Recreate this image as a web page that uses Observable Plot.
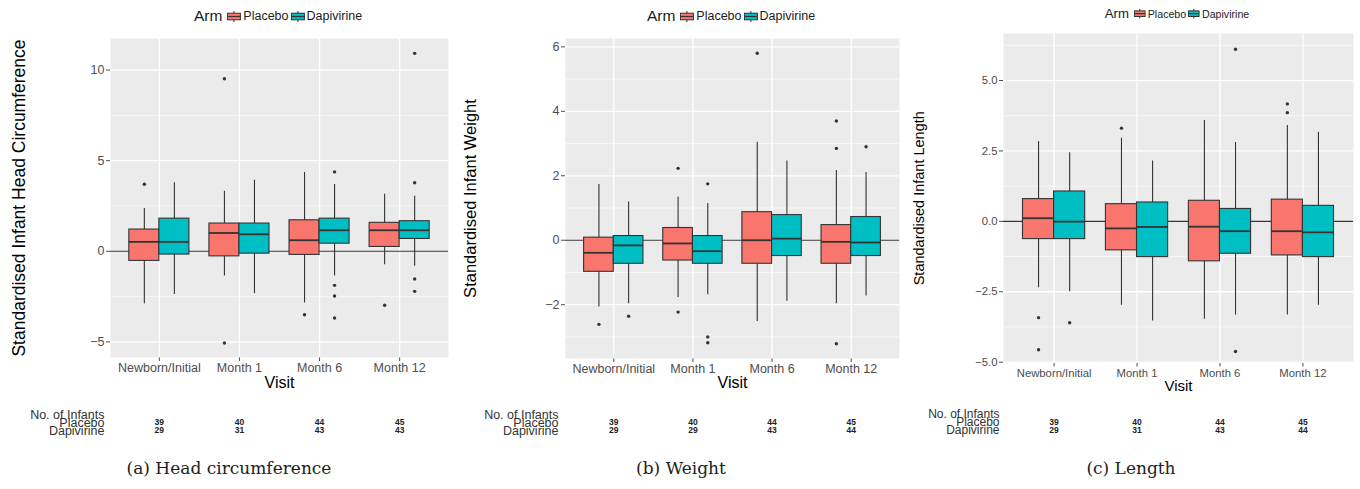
<!DOCTYPE html>
<html><head><meta charset="utf-8">
<script src="https://cdn.jsdelivr.net/npm/d3@7"></script>
<script src="https://cdn.jsdelivr.net/npm/@observablehq/plot@0.6"></script>
<style>
body{margin:0;background:#fff;width:1360px;height:489px;position:relative;overflow:hidden;font-family:"Liberation Sans",Arial,sans-serif}
.abs{position:absolute}
.legend{position:absolute;display:flex;align-items:center;transform:translateX(-50%);white-space:nowrap;color:#1a1a1a}
.legend .ttl{margin-right:5px}
.legend .lab{margin:0 2px 0 2px}
.caption{position:absolute;transform:translateX(-50%);font-family:"DejaVu Serif","Liberation Serif",serif;white-space:nowrap;color:#222}
</style></head>
<body>
<script>
const visits = ["Newborn/Initial", "Month 1", "Month 6", "Month 12"];
const arms = ["Placebo", "Dapivirine"];
const armColors = ["#F8766D", "#00BFC4"];

// [lower whisker, Q1, median, Q3, upper whisker] per visit
const headPlacebo = [[-2.89, -0.53, 0.52, 1.2, 2.36], [-1.36, -0.28, 1.01, 1.53, 3.31], [-2.85, -0.2, 0.61, 1.71, 4.35], [-0.74, 0.24, 1.16, 1.57, 3.15]];
const headDapivirine = [[-2.39, -0.18, 0.52, 1.8, 3.78], [-2.34, -0.13, 0.94, 1.53, 3.92], [-1.36, 0.42, 1.16, 1.8, 3.68], [-0.83, 0.68, 1.16, 1.66, 3.04]];
const headPlaceboOut = [[3.7], [9.52, -5.06], [-3.5], [-2.98]];
const headDapivirineOut = [[], [], [4.38, -1.88, -2.47, -3.68], [10.92, 3.78, -1.53, -2.21]];

const weightPlacebo = [[-2.07, -0.98, -0.39, 0.08, 1.73], [-1.78, -0.63, -0.1, 0.38, 1.33], [-2.52, -0.73, 0, 0.87, 3.04], [-1.97, -0.73, -0.05, 0.47, 2.16]];
const weightDapivirine = [[-1.97, -0.73, -0.16, 0.13, 1.19], [-1.69, -0.73, -0.34, 0.13, 1.14], [-1.89, -0.49, 0.05, 0.78, 2.46], [-1.73, -0.49, -0.07, 0.72, 2.1]];
const weightPlaceboOut = [[-2.61], [2.23, -2.23], [5.8], [3.7, 2.85, -3.21]];
const weightDapivirineOut = [[-2.36], [1.75, -3.0, -3.18], [], [2.9]];

const lengthPlacebo = [[-2.36, -0.63, 0.11, 0.79, 2.83], [-2.98, -1.03, -0.25, 0.61, 2.95], [-3.48, -1.42, -0.19, 0.73, 3.58], [-3.33, -1.21, -0.35, 0.77, 3.4]];
const lengthDapivirine = [[-2.5, -0.63, -0.01, 1.06, 2.44], [-3.54, -1.27, -0.2, 0.67, 2.14], [-3.33, -1.15, -0.35, 0.44, 2.8], [-2.98, -1.27, -0.39, 0.55, 3.16]];
const lengthPlaceboOut = [[-3.42, -4.56], [3.31], [], [4.17, 3.86]];
const lengthDapivirineOut = [[-3.6], [], [6.11, -4.62], []];

// No. of infants
const headCountPlacebo = [39, 40, 44, 45];
const headCountDapivirine = [29, 31, 43, 43];
const weightCountPlacebo = [39, 40, 44, 45];
const weightCountDapivirine = [29, 29, 43, 44];
const lengthCountPlacebo = [39, 40, 44, 45];
const lengthCountDapivirine = [29, 31, 43, 44];

// axis ticks
const headTicks = [-5, 0, 5, 10];
const headMinor = [-2.5, 2.5, 7.5];
const weightTicks = [-2, 0, 2, 4, 6];
const weightMinor = [-3, -1, 1, 3, 5];
const lengthTicks = [-5, -2.5, 0, 2.5, 5];
const lengthMinor = [-3.75, -1.25, 1.25, 3.75, 6.25];

const captions = ["(a) Head circumference", "(b) Weight", "(c) Length"];
const yLabels = ["Standardised Infant Head Circumference", "Standardised Infant Weight", "Standardised Infant Length"];

const PAD = 0.11, BOXFRAC = 0.375;
const minus = s => s.replace("-", "\u2212");

const panels = [
  {left: 0, width: 455, ml: 110, mr: 7, mt: 38, height: 400, mb: 43, ydomain: [-5.86, 11.74],
   ticks: headTicks, minor: headMinor, fmt: d => minus(String(d)), stats: [headPlacebo, headDapivirine], outs: [headPlaceboOut, headDapivirineOut],
   counts: [headCountPlacebo, headCountDapivirine], ylabel: yLabels[0], ylabDx: -91, ylabSize: 17.5, xlabDy: 30, xlabSize: 16, tickFont: 12.5,
   tpad: 6, tableFont: 12.5, legendY: 16, legendScale: 1, caption: captions[0], capX: 229},
  {left: 455, width: 455, ml: 110, mr: 11, mt: 38, height: 400, mb: 42, ydomain: [-3.67, 6.26],
   ticks: weightTicks, minor: weightMinor, fmt: d => minus(String(d)), stats: [weightPlacebo, weightDapivirine], outs: [weightPlaceboOut, weightDapivirineOut],
   counts: [weightCountPlacebo, weightCountDapivirine], ylabel: yLabels[1], ylabDx: -95, ylabSize: 16.5, xlabDy: 29, xlabSize: 16, tickFont: 12.5,
   tpad: 7, tableFont: 12.5, legendY: 16, legendScale: 1, caption: captions[1], capX: 681},
  {left: 910, width: 450, ml: 93, mr: 7, mt: 33, height: 400, mb: 37.5, ydomain: [-5.03, 6.67],
   ticks: lengthTicks, minor: lengthMinor, fmt: d => minus(d.toFixed(1)), stats: [lengthPlacebo, lengthDapivirine], outs: [lengthPlaceboOut, lengthDapivirineOut],
   counts: [lengthCountPlacebo, lengthCountDapivirine], ylabel: yLabels[2], ylabDx: -84, ylabSize: 14.5, xlabDy: 28, xlabSize: 15, tickFont: 11.3,
   tpad: 4, tableFont: 12, legendY: 14, legendScale: 0.85, caption: captions[2], capX: 1131}
];

function swatch(color, s) {
  const w = 14 * s, h = 11 * s;
  return `<svg width="${w}" height="${h}" style="display:block"><line x1="${w/2}" x2="${w/2}" y1="0" y2="${h}" stroke="#333" stroke-width="1"/>` +
    `<rect x="0.5" y="${h*0.2}" width="${w-1}" height="${h*0.6}" fill="${color}" stroke="#333" stroke-width="1"/>` +
    `<line x1="0.5" x2="${w-0.5}" y1="${h/2}" y2="${h/2}" stroke="#333" stroke-width="1.2"/></svg>`;
}

for (const cfg of panels) {
  const rows = [];
  const outs = [];
  arms.forEach((arm, a) => {
    visits.forEach((v, i) => {
      const s = cfg.stats[a][i];
      rows.push({visit: v, arm, lo: s[0], q1: s[1], med: s[2], q3: s[3], hi: s[4]});
      cfg.outs[a][i].forEach(y => outs.push({visit: v, arm, y}));
    });
  });
  const plotW = cfg.width - cfg.ml - cfg.mr;
  const step = plotW / (visits.length + 2 * PAD);
  const bw = step * BOXFRAC;
  const xScale = {domain: visits, type: "band", paddingInner: 0, paddingOuter: PAD, round: false};

  const marks = [
    Plot.frame({fill: "#ebebeb"}),
    Plot.ruleY(cfg.minor, {stroke: "#fff", strokeWidth: 0.6}),
    Plot.ruleY(cfg.ticks, {stroke: "#fff", strokeWidth: 1.3}),
    Plot.ruleX(visits, {stroke: "#fff", strokeWidth: 1.3}),
    Plot.ruleY([0], {stroke: "#333", strokeWidth: 1.1})
  ];
  arms.forEach((arm, a) => {
    const f = d => d.arm === arm;
    const sgn = a === 0 ? -1 : 1;
    const dx = sgn * bw / 2;
    const insetLeft = a === 0 ? step / 2 - bw : step / 2;
    const insetRight = a === 0 ? step / 2 : step / 2 - bw;
    marks.push(
      Plot.ruleX(rows, {filter: f, x: "visit", y1: "lo", y2: "hi", dx, stroke: "#333", strokeWidth: 1.1}),
      Plot.barY(rows, {filter: f, x: "visit", y1: "q1", y2: "q3", fill: "arm", stroke: "#333", strokeWidth: 1.1, insetLeft, insetRight}),
      Plot.tickY(rows, {filter: f, x: "visit", y: "med", stroke: "#333", strokeWidth: 1.8, insetLeft, insetRight}),
      Plot.dot(outs, {filter: f, x: "visit", y: "y", dx, r: 1.7, fill: "#333", stroke: null})
    );
  });
  marks.push(
    Plot.text([cfg.ylabel], {text: d => d, frameAnchor: "left", textAnchor: "middle", rotate: -90, dx: cfg.ylabDx, fontSize: cfg.ylabSize, fill: "#000"}),
    Plot.text(["Visit"], {text: d => d, frameAnchor: "bottom", textAnchor: "middle", dy: cfg.xlabDy, fontSize: cfg.xlabSize, fill: "#000"})
  );

  const chart = Plot.plot({
    width: cfg.width, height: cfg.height,
    marginLeft: cfg.ml, marginRight: cfg.mr, marginTop: cfg.mt, marginBottom: cfg.mb,
    style: {fontFamily: '"Liberation Sans", Arial, sans-serif', fontSize: cfg.tickFont + "px", color: "#4d4d4d", background: "transparent", overflow: "visible"},
    x: {...xScale, tickSize: 4, tickPadding: 2, label: null},
    y: {domain: cfg.ydomain, ticks: cfg.ticks, tickFormat: cfg.fmt, tickSize: 4, tickPadding: 2, label: null},
    color: {domain: arms, range: armColors},
    marks
  });
  chart.classList.add("abs");
  chart.style.left = cfg.left + "px";
  chart.style.top = "0px";
  document.body.appendChild(chart);

  // counts table
  const countRows = [];
  arms.forEach((arm, a) => visits.forEach((v, i) => countRows.push({visit: v, arm, n: cfg.counts[a][i]})));
  const table = Plot.plot({
    width: cfg.width, height: 36,
    marginLeft: cfg.ml, marginRight: cfg.mr, marginTop: 9, marginBottom: 11,
    style: {fontFamily: '"Liberation Sans", Arial, sans-serif', fontSize: cfg.tableFont + "px", color: "#333", background: "transparent", overflow: "visible"},
    x: {...xScale, axis: null},
    y: {type: "point", domain: ["No. of Infants", ...arms], padding: 0, tickSize: 0, tickPadding: cfg.tpad, label: null},
    marks: [Plot.text(countRows, {x: "visit", y: "arm", text: "n", fontSize: 8.5, fontWeight: "bold", fill: "#222"})]
  });
  table.classList.add("abs");
  table.style.left = cfg.left + "px";
  table.style.top = "405px";
  document.body.appendChild(table);

  // legend
  const cx = cfg.left + cfg.ml + plotW / 2;
  const s = cfg.legendScale;
  const lg = document.createElement("div");
  lg.className = "legend";
  lg.style.left = cx + "px";
  lg.style.top = (cfg.legendY - 9 * s) + "px";
  lg.style.height = (18 * s) + "px";
  lg.innerHTML = `<span class="ttl" style="font-size:${15.5 * s}px">Arm</span>` +
    arms.map((arm, a) => swatch(armColors[a], s) + `<span class="lab" style="font-size:${12.5 * s}px">${arm}</span>`).join("");
  document.body.appendChild(lg);

  // caption
  const cap = document.createElement("div");
  cap.className = "caption";
  cap.style.left = cfg.capX + "px";
  cap.style.top = "458px";
  cap.style.fontSize = "17px";
  cap.textContent = cfg.caption;
  document.body.appendChild(cap);
}
</script>
</body></html>
